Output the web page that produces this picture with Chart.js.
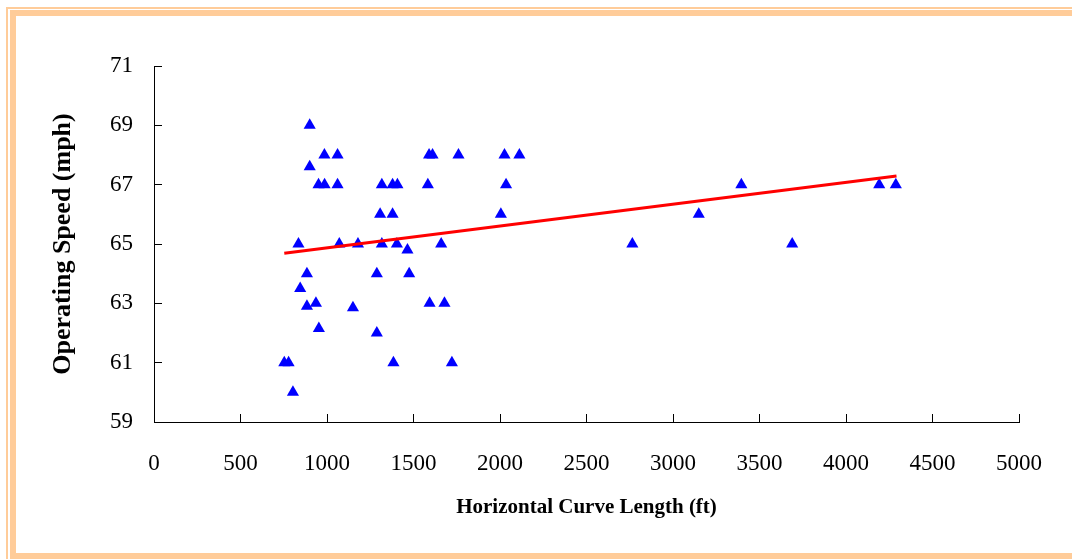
<!DOCTYPE html>
<html>
<head>
<meta charset="utf-8">
<script src="https://cdn.jsdelivr.net/npm/chart.js@4.4.0/dist/chart.umd.min.js"></script>
<style>
  html, body { margin: 0; padding: 0; background: #fff; }
  #wrap { position: relative; width: 1072px; height: 559px; overflow: hidden; }
  .band { position: absolute; background: #FFCC99; }
  canvas { position: absolute; left: 0; top: 0; }
</style>
</head>
<body>
<div id="wrap">
  <!-- cadre peche -->
  <div class="band" style="left:6px; top:7px; width:1066px; height:2px;"></div>
  <div class="band" style="left:6px; top:7px; width:2px; height:552px;"></div>
  <div class="band" style="left:10px; top:10px; width:1062px; height:6px;"></div>
  <div class="band" style="left:10px; top:10px; width:6px; height:549px;"></div>
  <div class="band" style="left:10px; top:553px; width:1062px; height:6px;"></div>
  <canvas id="myChart" width="1072" height="559"></canvas>
</div>
<script>
// Donnees
const curveLength = [
  900, 985, 1061, 1590, 1610, 1760, 2026, 2112,
  900,
  951, 986, 1061, 1317, 1379, 1407, 1583, 2035,
  1307, 1379, 2005,
  835, 1071, 1179, 1317, 1404, 1660,
  1465,
  884, 1288, 1475,
  845,
  884, 936, 1593, 1679, 1150,
  953, 1288,
  753, 778, 1384, 1722,
  803,
  2765, 3149, 3395, 3689, 4192, 4288
];
const operatingSpeed = [
  69, 68, 68, 68, 68, 68, 68, 68,
  67.6,
  67, 67, 67, 67, 67, 67, 67, 67,
  66, 66, 66,
  65, 65, 65, 65, 65, 65,
  64.8,
  64, 64, 64,
  63.5,
  62.9, 63, 63, 63, 62.85,
  62.15, 62,
  61, 61, 61, 61,
  60,
  65, 66, 67, 65, 67, 67
];
// Droite de tendance (extremites)
const trendX = [753, 4292];
const trendY = [64.69, 67.29];

const xTicks = { min: 0, max: 5000, step: 500 };
const yTicks = { min: 59, max: 71, step: 2 };

const points = curveLength.map((x, i) => ({ x: x, y: operatingSpeed[i] }));
const trend = trendX.map((x, i) => ({ x: x, y: trendY[i] }));

Chart.defaults.animation = false;
Chart.defaults.font.family = '"Liberation Serif", "Times New Roman", serif';
Chart.defaults.color = '#000';

const ctx = document.getElementById('myChart').getContext('2d');
new Chart(ctx, {
  type: 'scatter',
  data: {
    datasets: [
      {
        data: points,
        pointStyle: 'triangle',
        pointRadius: 7,
        pointBackgroundColor: '#0000FF',
        pointBorderColor: '#0000FF',
        pointBorderWidth: 0,
        order: 2
      },
      {
        type: 'line',
        data: trend,
        borderColor: '#FF0000',
        borderWidth: 3,
        pointRadius: 0,
        fill: false,
        order: 1
      }
    ]
  },
  options: {
    responsive: false,
    plugins: { legend: { display: false }, tooltip: { enabled: false } },
    layout: { padding: { left: 0, top: 66, right: 53, bottom: 27 } },
    scales: {
      x: {
        type: 'linear',
        min: xTicks.min, max: xTicks.max,
        afterFit: (s) => { s.height = 110; s.paddingLeft = 0; s.paddingRight = 0; },
        ticks: {
          stepSize: xTicks.step, padding: 36, font: { size: 23 }, maxRotation: 0,
          callback: (v) => String(v)
        },
        grid: { drawOnChartArea: false, drawTicks: true, tickLength: -8, color: '#000', lineWidth: 1 },
        border: { color: '#000', width: 1 },
        title: {
          display: true,
          text: 'Horizontal Curve Length (ft)',
          font: { size: 21, weight: 'bold' },
          padding: { top: 0, bottom: 12 }
        }
      },
      y: {
        type: 'linear',
        min: yTicks.min, max: yTicks.max,
        afterFit: (s) => { s.width = 154; s.paddingTop = 0; s.paddingBottom = 0; },
        ticks: { stepSize: yTicks.step, padding: 29, font: { size: 23 } },
        grid: { drawOnChartArea: false, drawTicks: true, tickLength: -8, color: '#000', lineWidth: 1 },
        border: { color: '#000', width: 1 },
        title: {
          display: true,
          text: 'Operating Speed (mph)',
          font: { size: 26, weight: 'bold' },
          padding: { top: 48, bottom: 0 }
        }
      }
    }
  }
});
</script>
</body>
</html>
